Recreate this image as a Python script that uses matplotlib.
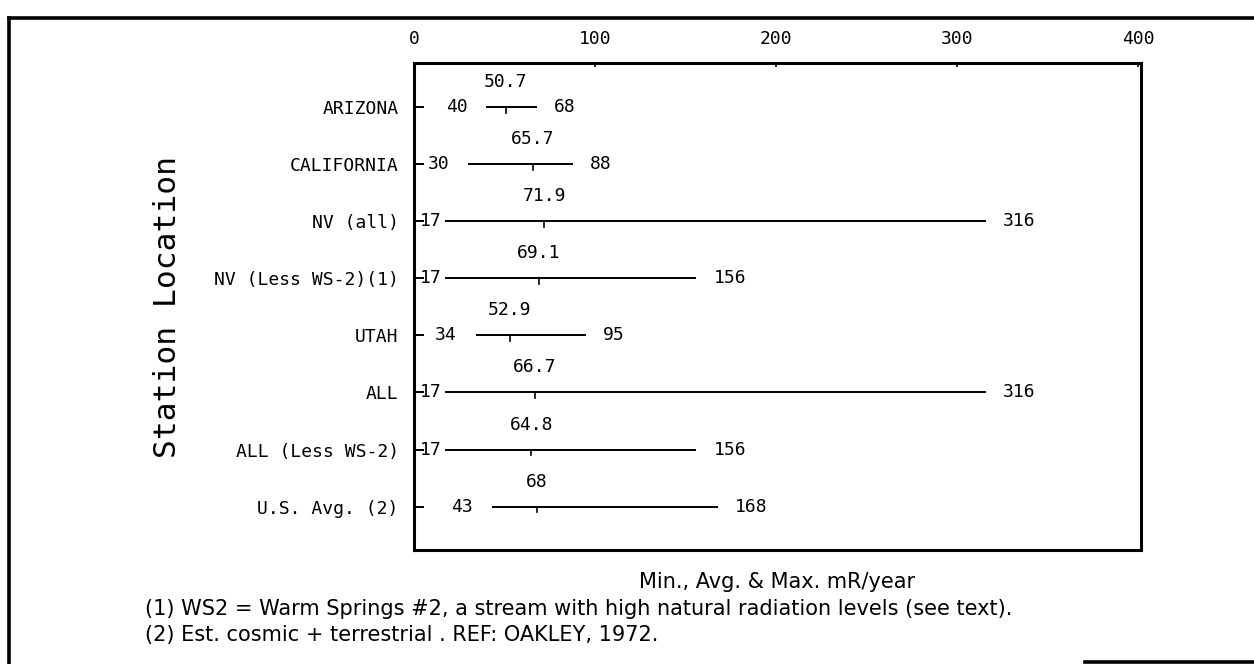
"""
Station location range chart: min, avg and max external exposure (mR/year)
for each group of monitoring stations, with the U.S. average for comparison.
"""

import matplotlib
matplotlib.use('Agg')
import matplotlib.pyplot as plt
from matplotlib.lines import Line2D

# Data (top row first)
stations = [
    'ARIZONA',
    'CALIFORNIA',
    'NV (all)',
    'NV (Less WS-2)(1)',
    'UTAH',
    'ALL',
    'ALL (Less WS-2)',
    'U.S. Avg. (2)',
]
min_vals = [40, 30, 17, 17, 34, 17, 17, 43]
avg_vals = [50.7, 65.7, 71.9, 69.1, 52.9, 66.7, 64.8, 68]
max_vals = [68, 88, 316, 156, 95, 316, 156, 168]
x_ticks = [0, 100, 200, 300, 400]

xlabel = 'Min., Avg. & Max. mR/year'
ylabel = 'Station Location'
notes = [
    '(1) WS2 = Warm Springs #2, a stream with high natural radiation levels (see text).',
    '(2) Est. cosmic + terrestrial . REF: OAKLEY, 1972.',
]

PLOT_FONT = 'DejaVu Sans Mono'
NOTE_FONT = 'DejaVu Sans'
FS = 13
NOTE_FS = 15


def fmt(v):
    return f'{v:g}'


def draw_ranges(ax):
    """One horizontal line per station from min to max, tick at avg."""
    px_per_unit = ax.bbox.width / (ax.get_xlim()[1] - ax.get_xlim()[0])
    char_w = 0.602 * FS * 100 / 72  # mono advance in pixels at dpi 100
    for i, name in enumerate(stations):
        lo, mid, hi = min_vals[i], avg_vals[i], max_vals[i]
        ax.plot([lo, hi], [i, i], color='black', lw=1.4, solid_capstyle='butt')
        ax.plot([mid, mid], [i, i + 0.1], color='black', lw=1.2)

        # min label: keep it clear of the left spine
        lab = fmt(lo)
        gap = 19
        if lo * px_per_unit - gap - len(lab) * char_w < 6:
            gap = 3
        ax.annotate(lab, (lo, i), xytext=(-gap * 0.72, 0), textcoords='offset points',
                    ha='right', va='center', fontsize=FS, family=PLOT_FONT)
        ax.annotate(fmt(hi), (hi, i), xytext=(17 * 0.72, 0), textcoords='offset points',
                    ha='left', va='center', fontsize=FS, family=PLOT_FONT)
        ax.annotate(fmt(mid), (mid, i), xytext=(0, 25 * 0.72), textcoords='offset points',
                    ha='center', va='center', fontsize=FS, family=PLOT_FONT)


def main():
    fig = plt.figure(figsize=(12.54, 6.64), dpi=100)
    ax = fig.add_axes([414 / 1254, 1 - 550 / 664, 727 / 1254, 487 / 664])

    ax.set_xlim(0, 401.5)
    ax.set_ylim(len(stations) - 1 + 0.76, -0.77)

    draw_ranges(ax)

    ax.xaxis.tick_top()
    ax.set_xticks(x_ticks)
    ax.set_xticklabels([str(t) for t in x_ticks], family=PLOT_FONT, fontsize=FS)
    ax.tick_params(axis='x', direction='in', length=3, width=1.2, pad=11)

    ax.set_yticks(range(len(stations)))
    ax.set_yticklabels(stations, family=PLOT_FONT, fontsize=FS)
    ax.tick_params(axis='y', direction='in', length=7, width=1.4, pad=11)

    for spine in ax.spines.values():
        spine.set_linewidth(2.2)

    fig.text(168 / 1254, 1 - 307 / 664, ylabel, rotation=90, ha='center', va='center',
             family=PLOT_FONT, fontsize=22.5)
    fig.text(777 / 1254, 1 - 582 / 664, xlabel, ha='center', va='center',
             family=NOTE_FONT, fontsize=NOTE_FS)
    for k, note in enumerate(notes):
        fig.text(145 / 1254, 1 - (609 + 26 * k) / 664, note, ha='left', va='center',
                 family=NOTE_FONT, fontsize=NOTE_FS)

    # outer frame (partly cut off in the scan)
    frame = dict(color='black', lw=2.6, transform=fig.transFigure)
    fig.add_artist(Line2D([9 / 1254, 1], [1 - 18 / 664] * 2, **frame))
    fig.add_artist(Line2D([9 / 1254] * 2, [0, 1 - 18 / 664], **frame))
    fig.add_artist(Line2D([1085 / 1254, 1], [2 / 664] * 2, **frame))

    fig.savefig('out.png', dpi=100)
    plt.close(fig)


if __name__ == '__main__':
    main()
